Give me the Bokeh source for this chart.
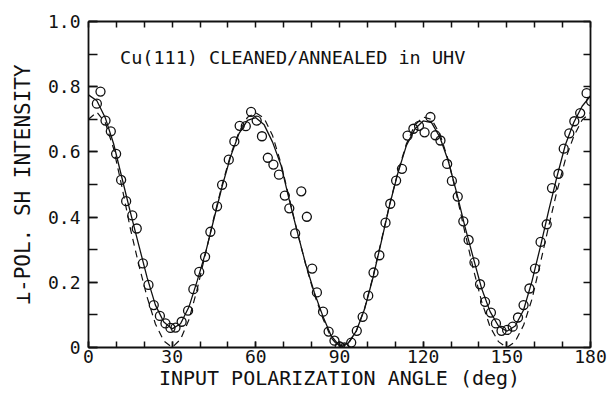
from bokeh.plotting import figure
from bokeh.models import FixedTicker, LinearAxis, Label, Range1d
from bokeh.embed import file_html
from bokeh.resources import INLINE

# ---- data ----
angle_pts = [3.0, 4.3, 6.1, 8.0, 9.9, 11.7, 13.5, 15.7, 17.3, 19.5, 21.5, 23.4, 25.6, 27.6,
             29.4, 31.2, 33.4, 35.7, 37.6, 39.7, 41.8, 43.7, 46.1, 47.9, 50.3, 52.3, 54.2,
             56.4, 58.3, 60.3, 62.2, 64.3, 66.3, 68.3, 70.4, 72.0, 74.1, 76.3, 78.3, 80.2,
             81.9, 84.1, 86.1, 88.2, 90.1, 91.8, 94.2, 96.2, 98.3, 100.3, 102.2, 104.3,
             106.5, 108.2, 110.3, 112.4, 114.4, 116.5, 118.5, 120.5, 122.6, 124.4, 126.2,
             128.6, 130.3, 132.4, 134.4, 136.3, 138.4, 140.4, 142.2, 144.3, 146.1, 148.1,
             150.1, 152.1, 154.0, 156.0, 158.1, 160.1, 162.1, 164.3, 166.2, 168.5, 170.4,
             172.4, 174.2, 176.3, 178.6, 180.2]
intensity_pts = [0.748, 0.785, 0.696, 0.663, 0.594, 0.514, 0.449, 0.405, 0.365, 0.258, 0.192,
                 0.130, 0.097, 0.074, 0.060, 0.061, 0.079, 0.113, 0.179, 0.232, 0.278, 0.355,
                 0.433, 0.499, 0.576, 0.632, 0.680, 0.679, 0.723, 0.696, 0.648, 0.582, 0.561,
                 0.530, 0.466, 0.427, 0.350, 0.479, 0.401, 0.242, 0.169, 0.110, 0.049, 0.021,
                 0.003, 0.000, 0.015, 0.051, 0.094, 0.159, 0.230, 0.283, 0.383, 0.441, 0.512,
                 0.548, 0.650, 0.671, 0.680, 0.660, 0.707, 0.651, 0.635, 0.563, 0.511, 0.463,
                 0.387, 0.330, 0.261, 0.194, 0.140, 0.107, 0.074, 0.051, 0.054, 0.064, 0.092,
                 0.130, 0.181, 0.242, 0.324, 0.378, 0.489, 0.533, 0.610, 0.657, 0.694, 0.719,
                 0.780, 0.755]

curve_angle = [0, 3, 6, 9, 12, 15, 18, 21, 24, 27, 30, 33, 36, 39, 42, 45, 48, 51, 54, 57,
               60, 63, 66, 69, 72, 75, 78, 81, 84, 87, 90, 93, 96, 99, 102, 105, 108, 111,
               114, 117, 120, 123, 126, 129, 132, 135, 138, 141, 144, 147, 150, 153, 156,
               159, 162, 165, 168, 171, 174, 177, 180]
solid_fit = [0.775, 0.757, 0.705, 0.625, 0.520, 0.415, 0.315, 0.215, 0.130, 0.078, 0.057,
             0.073, 0.124, 0.205, 0.292, 0.395, 0.497, 0.587, 0.657, 0.697, 0.705, 0.683,
             0.630, 0.560, 0.452, 0.350, 0.252, 0.168, 0.097, 0.036, 0.005, 0.012, 0.050,
             0.118, 0.214, 0.325, 0.438, 0.537, 0.620, 0.670, 0.695, 0.690, 0.645, 0.572,
             0.475, 0.370, 0.274, 0.180, 0.110, 0.066, 0.050, 0.066, 0.115, 0.203, 0.308,
             0.420, 0.525, 0.622, 0.690, 0.740, 0.772]
dashed_fit = [0.700, 0.722, 0.690, 0.610, 0.492, 0.365, 0.255, 0.155, 0.072, 0.020, 0.000,
              0.025, 0.085, 0.180, 0.290, 0.400, 0.502, 0.592, 0.662, 0.706, 0.720, 0.703,
              0.650, 0.565, 0.458, 0.350, 0.250, 0.163, 0.090, 0.030, 0.000, 0.010, 0.050,
              0.120, 0.217, 0.328, 0.440, 0.540, 0.625, 0.682, 0.707, 0.700, 0.655, 0.575,
              0.468, 0.352, 0.240, 0.140, 0.063, 0.018, 0.000, 0.018, 0.068, 0.148, 0.258,
              0.372, 0.480, 0.577, 0.648, 0.698, 0.720]

x_ticks = [0, 30, 60, 90, 120, 150, 180]
x_tick_labels = ["0", "30", "60", "90", "120", "150", "180"]
x_minor = [0, 10, 20, 30, 40, 50, 60, 70, 80, 90, 100, 110, 120, 130, 140, 150, 160, 170, 180]
y_ticks = [0, 0.2, 0.4, 0.6, 0.8, 1.0]
y_tick_labels = ["0", "0.2", "0.4", "0.6", "0.8", "1.0"]
y_minor = [0, 0.1, 0.2, 0.3, 0.4, 0.5, 0.6, 0.7, 0.8, 0.9, 1.0]

title_text = "Cu(111) CLEANED/ANNEALED in UHV"
x_label = "INPUT POLARIZATION ANGLE (deg)"
y_label = "\u22a5-POL. SH INTENSITY"

FONT = "DejaVu Sans Mono"
INK = "#111111"

p = figure(width=610, height=393, x_range=Range1d(0, 180), y_range=Range1d(0, 1.0),
           output_backend="svg", toolbar_location=None,
           min_border_left=88, min_border_right=20, min_border_top=21, min_border_bottom=46)
p.background_fill_color = "white"
p.border_fill_color = "white"
p.outline_line_color = None
p.xgrid.visible = False
p.ygrid.visible = False

xa = p.xaxis[0]
xa.ticker = FixedTicker(ticks=x_ticks, minor_ticks=x_minor)
xa.major_label_overrides = {t: l for t, l in zip(x_ticks, x_tick_labels)}
xa.major_tick_in = 6
xa.major_tick_out = 0
xa.minor_tick_in = 6
xa.minor_tick_out = 0
xa.major_label_standoff = 2
xa.major_label_text_font = FONT
xa.major_label_text_font_size = "18px"
xa.major_label_text_color = INK
xa.axis_line_width = 1.8
xa.axis_line_color = INK
xa.major_tick_line_width = 1.5
xa.minor_tick_line_width = 1.5
xa.major_tick_line_color = INK
xa.minor_tick_line_color = INK
xa.axis_label = x_label
xa.axis_label_text_font = FONT
xa.axis_label_text_font_size = "20px"
xa.axis_label_text_font_style = "normal"
xa.axis_label_text_color = INK
xa.axis_label_standoff = 0

ya = p.yaxis[0]
ya.ticker = FixedTicker(ticks=y_ticks, minor_ticks=y_minor)
ya.major_label_overrides = {t: l for t, l in zip(y_ticks, y_tick_labels)}
ya.major_tick_in = 9
ya.major_tick_out = 0
ya.minor_tick_in = 9
ya.minor_tick_out = 0
ya.major_label_standoff = 8
ya.major_label_text_font = FONT
ya.major_label_text_font_size = "18px"
ya.major_label_text_color = INK
ya.axis_line_width = 1.8
ya.axis_line_color = INK
ya.major_tick_line_width = 1.5
ya.minor_tick_line_width = 1.5
ya.major_tick_line_color = INK
ya.minor_tick_line_color = INK
ya.axis_label = y_label
ya.axis_label_text_font = FONT
ya.axis_label_text_font_size = "21px"
ya.axis_label_text_font_style = "normal"
ya.axis_label_text_color = INK
ya.axis_label_standoff = 10

top = LinearAxis(ticker=FixedTicker(ticks=x_minor), major_tick_in=6, major_tick_out=0,
                 minor_tick_line_color=None, major_label_text_color=None,
                 axis_line_width=1.8, axis_line_color=INK, major_tick_line_width=1.5,
                 major_tick_line_color=INK)
p.add_layout(top, "above")
right = LinearAxis(ticker=FixedTicker(ticks=y_minor), major_tick_in=7, major_tick_out=0,
                   minor_tick_line_color=None, major_label_text_color=None,
                   axis_line_width=1.8, axis_line_color=INK, major_tick_line_width=1.5,
                   major_tick_line_color=INK)
p.add_layout(right, "right")

p.line(curve_angle, dashed_fit, line_color=INK, line_width=1.2, line_dash="7 5")
p.line(curve_angle, solid_fit, line_color=INK, line_width=1.3)
p.scatter(angle_pts, intensity_pts, marker="circle", size=9, fill_color=None,
          line_color=INK, line_width=1.3)

p.add_layout(Label(x=11.3, y=0.89, text=title_text, text_font=FONT, text_font_size="18.5px",
                   text_color=INK, text_align="left", text_baseline="alphabetic"))

open("out.html", "w").write(file_html(p, INLINE))
